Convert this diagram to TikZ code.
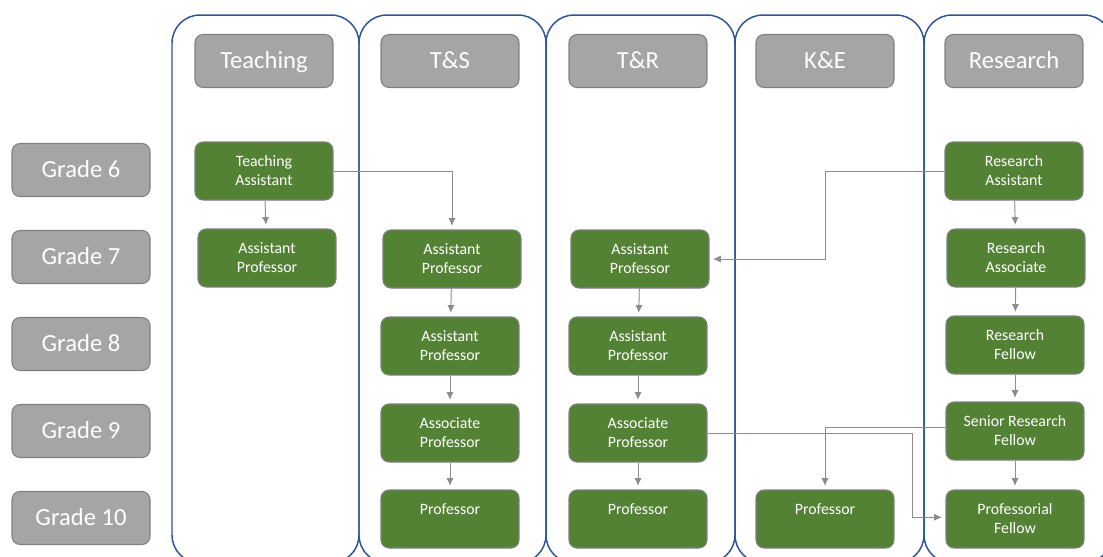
\documentclass[tikz,border=0pt]{standalone}
\usepackage{fontspec}
\setmainfont{Carlito}
\usetikzlibrary{positioning,arrows.meta}
\definecolor{laneblue}{HTML}{2F5597}
\definecolor{headgray}{HTML}{A5A5A5}
\definecolor{edgegray}{HTML}{7F7F7F}
\definecolor{postgreen}{HTML}{548235}
\definecolor{linkgray}{HTML}{8C8C8C}
\tikzset{>={Latex[length=4.5pt,width=4pt]}}
\tikzset{
  lane/.style={draw=laneblue, line width=0.85pt, rounded corners=0.56cm},
  head/.style={draw=edgegray, fill=headgray, line width=0.6pt,
    rounded corners=0.16cm, minimum width=2.76cm, minimum height=1.06cm,
    text height=12pt, text depth=3pt,
    text=white, font=\fontsize{14}{16}\selectfont},
  post/.style={draw=edgegray, fill=postgreen, line width=0.6pt,
    rounded corners=0.16cm, minimum width=2.76cm, minimum height=1.16cm,
    inner sep=0pt, text=white, align=center,
    font=\fontsize{9}{10.8}\selectfont},
  link/.style={->, draw=linkgray, line width=0.55pt, shorten >=2pt},
}

\begin{document}
\begin{tikzpicture}[x=0.02cm, y=-0.02cm]
  \useasboundingbox (0,0) rectangle (1103,556);
  % lanes, cut off at the bottom and right
  \begin{scope}
    \clip (0,0) rectangle (1103,556);
    \foreach \a/\b in {172/359, 359/546, 546/735, 735/924, 924/1112}
      \draw[lane] (\a,15) rectangle (\b,563);
  \end{scope}
  % column heads
  \node[head] (hteach) at (264,61) {Teaching};
  \node[head] (hts) at (450,61) {T\&S};
  \node[head] (htr) at (638,61) {T\&R};
  \node[head] (hke) at (825,61) {K\&E};
  \node[head] (hres) at (1014,61) {Research};
  % grades
  \foreach \g/\y in {6/170, 7/257, 8/344, 9/431, 10/518}
    \node[head] (grade\g) at (81,\y) {Grade \g};
  % teaching
  \node[post] (ta) at (264,171) {Teaching\\Assistant};
  \node[post] (tap) at (267,258) {Assistant\\Professor};
  % T&S
  \node[post] (tsap) at (452,259) {Assistant\\Professor};
  \node[post] (tsap8) at (450,346) {Assistant\\Professor};
  \node[post] (tsasp) at (450,433) {Associate\\Professor};
  \node[post] (tsp) at (450,519) {Professor\\~};
  % T&R
  \node[post] (trap) at (640,259) {Assistant\\Professor};
  \node[post] (trap8) at (638,346) {Assistant\\Professor};
  \node[post] (trasp) at (638,433) {Associate\\Professor};
  \node[post] (trp) at (638,519) {Professor\\~};
  % K&E
  \node[post] (kep) at (825,519) {Professor\\~};
  % research
  \node[post] (ra) at (1014,171) {Research\\Assistant};
  \node[post] (rasc) at (1016,258) {Research\\Associate};
  \node[post] (rf) at (1015,345) {Research\\Fellow};
  \node[post] (srf) at (1015,431) {Senior Research\\Fellow};
  \node[post] (pf) at (1015,519) {Professorial\\Fellow};
  % links
  \draw[link] (ta) -- (tap);
  \draw[link] (ta.east) -| (tsap.north);
  \draw[link] (tsap) -- (tsap8);
  \draw[link] (tsap8) -- (tsasp);
  \draw[link] (tsasp) -- (tsp);
  \draw[link] (trap) -- (trap8);
  \draw[link] (trap8) -- (trasp);
  \draw[link] (trasp) -- (trp);
  \draw[link] (ra) -- (rasc);
  \draw[link] (rasc) -- (rf);
  \draw[link] (rf) -- (srf);
  \draw[link] (srf) -- (pf);
  \draw[link] (ra.west) -- (ra.west -| kep.north) |- (trap.east);
  \draw[link] ([yshift=2pt]srf.west) -| (kep.north);
  \draw[link] (trasp.east) -- ++(205,0) |- ([yshift=1pt]pf.west);
\end{tikzpicture}
\end{document}
